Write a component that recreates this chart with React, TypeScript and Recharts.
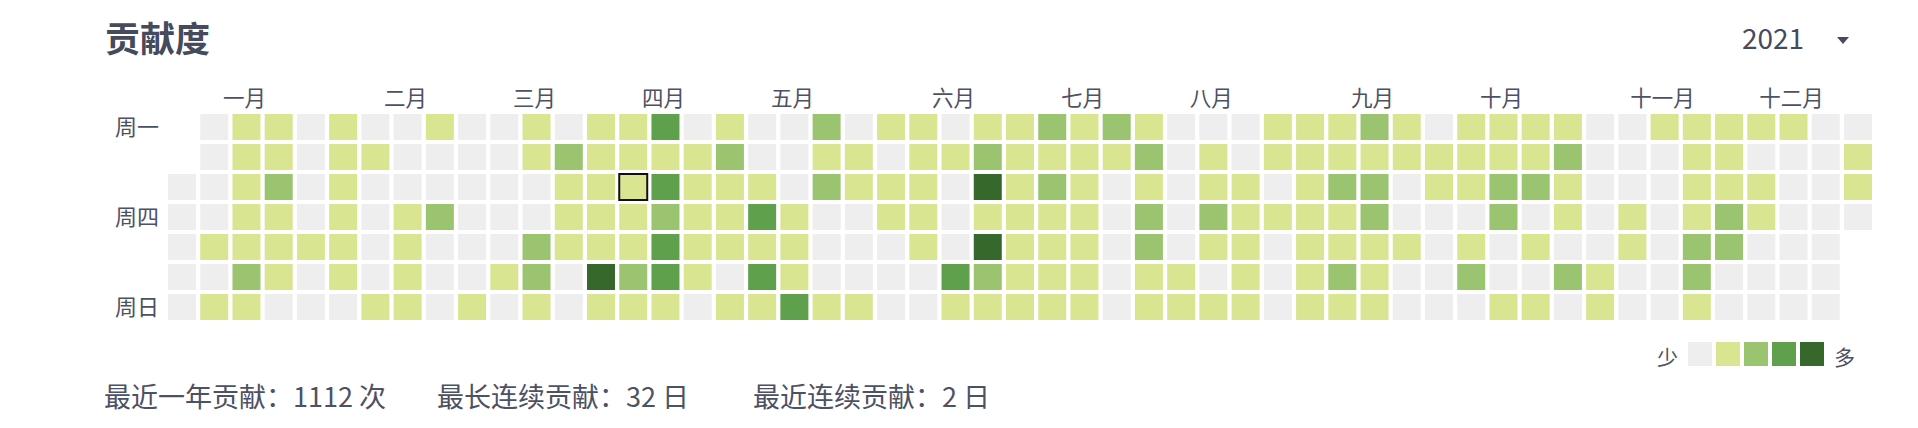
import React from 'react';
import { ScatterChart, Scatter, XAxis, YAxis } from 'recharts';

const TITLE = '贡献度';
const YEAR = '2021';
const MONTH_LABELS = ['一月', '二月', '三月', '四月', '五月', '六月', '七月', '八月', '九月', '十月', '十一月', '十二月'];
const MONTH_WEEKS = [2, 7, 11, 15, 19, 24, 28, 32, 37, 41, 46, 50];
const DAY_LABELS = ['周一', '周二', '周三', '周四', '周五', '周六', '周日'];
const DAY_TICKS = [0, 3, 6];
const LEVEL_COLORS = ['#eeeeee', '#dae591', '#9bc470', '#5ea04b', '#36682c'];
const FOOTER = ['最近一年贡献：1112 次', '最长连续贡献：32 日', '最近连续贡献：2 日'];
const SELECTED = { week: 14, day: 2 };

const N = null;
// level per week (0..52) for each weekday row
const MON = [N, 0, 1, 1, 0, 1, 0, 0, 1, 0, 0, 1, 0, 1, 1, 3, 0, 1, 0, 0, 2, 0, 1, 1, 0, 1, 1, 2, 1, 2, 1, 0, 0, 0, 1, 1, 1, 2, 1, 0, 1, 1, 1, 1, 0, 0, 1, 1, 1, 1, 1, 0, 0];
const TUE = [N, 0, 1, 1, 0, 1, 1, 0, 0, 0, 0, 1, 2, 1, 1, 1, 1, 2, 0, 0, 1, 1, 0, 1, 1, 2, 1, 1, 1, 1, 2, 0, 1, 0, 1, 1, 1, 1, 1, 1, 1, 1, 1, 2, 0, 0, 0, 1, 1, 0, 0, 0, 1];
const WED = [0, 0, 1, 2, 0, 1, 0, 0, 0, 0, 0, 0, 1, 1, 1, 3, 1, 1, 1, 0, 2, 1, 1, 1, 0, 4, 1, 2, 1, 0, 1, 0, 1, 1, 0, 1, 2, 2, 0, 1, 1, 2, 2, 1, 0, 0, 0, 1, 1, 1, 0, 0, 1];
const THU = [0, 0, 1, 1, 0, 1, 0, 1, 2, 0, 0, 0, 1, 1, 1, 2, 1, 1, 3, 1, 0, 0, 1, 1, 0, 1, 1, 1, 1, 0, 2, 0, 2, 1, 1, 1, 1, 2, 0, 0, 0, 2, 0, 1, 0, 1, 0, 1, 2, 1, 0, 0, 0];
const FRI = [0, 1, 1, 1, 1, 1, 0, 1, 0, 0, 0, 2, 1, 1, 1, 3, 1, 1, 1, 1, 0, 0, 0, 1, 0, 4, 1, 1, 1, 0, 2, 0, 1, 1, 0, 1, 1, 1, 1, 0, 1, 0, 1, 0, 0, 1, 0, 2, 2, 0, 0, 0, N];
const SAT = [0, 0, 2, 1, 0, 1, 0, 1, 0, 0, 1, 2, 0, 4, 2, 3, 1, 0, 3, 1, 0, 0, 0, 0, 3, 2, 1, 1, 1, 0, 1, 1, 0, 1, 0, 1, 2, 1, 0, 0, 2, 0, 0, 2, 1, 0, 0, 2, 0, 0, 0, 0, N];
const SUN = [0, 1, 1, 0, 0, 0, 1, 1, 0, 1, 0, 1, 0, 1, 1, 1, 0, 1, 1, 3, 1, 1, 0, 0, 1, 1, 1, 1, 1, 0, 1, 1, 1, 1, 0, 1, 1, 1, 0, 0, 0, 1, 1, 0, 1, 0, 0, 1, 0, 0, 0, 0, N];
const ROWS = [MON, TUE, WED, THU, FRI, SAT, SUN];

type CellDatum = { week: number; day: number; level: number };
const cells: CellDatum[] = [];
ROWS.forEach((row, day) => {
  row.forEach((level, week) => {
    if (level !== null) cells.push({ week, day, level });
  });
});

const FONT = "'Noto Sans CJK SC', 'Noto Sans', sans-serif";
const TEXT_COLOR = '#4c5163';

const CellShape = (props: any) => {
  const { cx, cy, payload } = props;
  const sel = payload.week === SELECTED.week && payload.day === SELECTED.day;
  return (
    <rect
      x={cx - 14}
      y={cy - 13}
      width={28}
      height={26}
      fill={LEVEL_COLORS[payload.level]}
      stroke={sel ? '#111111' : 'none'}
      strokeWidth={sel ? 2 : 0}
    />
  );
};

export default function App() {
  return (
    <div style={{ position: 'absolute', left: 0, top: 0, width: 1918, height: 428, background: '#fff', fontFamily: FONT }}>
      <div style={{ position: 'absolute', left: 105, top: 19, fontSize: 35, lineHeight: 1, fontWeight: 600, color: '#454a5c', whiteSpace: 'nowrap' }}>{TITLE}</div>
      <div style={{ position: 'absolute', left: 1742, top: 23, fontSize: 28, lineHeight: 1, color: '#454a5c' }}>{YEAR}</div>
      <svg style={{ position: 'absolute', left: 1837, top: 37 }} width={12} height={7}>
        <polygon points="0,0 12,0 6,7" fill="#454a5c" />
      </svg>
      <div style={{ position: 'absolute', left: 0, top: 0 }}>
        <ScatterChart width={1918} height={428} margin={{ top: 82, right: 43.9, bottom: 106, left: 105.9 }}>
          <XAxis
            type="number"
            dataKey="week"
            domain={[-0.5, 52.5]}
            orientation="top"
            height={30}
            ticks={MONTH_WEEKS}
            interval={0}
            tickFormatter={(v: number) => MONTH_LABELS[MONTH_WEEKS.indexOf(v)]}
            axisLine={false}
            tickLine={false}
            tickSize={0}
            tickMargin={6}
            tick={{ fill: TEXT_COLOR, fontSize: 21.5, fontFamily: FONT, dx: -2 }}
          />
          <YAxis
            type="number"
            dataKey="day"
            domain={[-0.5, 6.5]}
            reversed
            width={60}
            ticks={DAY_TICKS}
            interval={0}
            tickFormatter={(v: number) => DAY_LABELS[v]}
            axisLine={false}
            tickLine={false}
            tickSize={0}
            tickMargin={7}
            tick={{ fill: TEXT_COLOR, fontSize: 22, fontFamily: FONT }}
          />
          <Scatter data={cells} shape={CellShape} isAnimationActive={false} />
        </ScatterChart>
      </div>
      <div style={{ position: 'absolute', left: 1657, top: 346, fontSize: 21, lineHeight: 1, color: TEXT_COLOR }}>少</div>
      {LEVEL_COLORS.map((c, i) => (
        <div key={c} style={{ position: 'absolute', left: 1688 + i * 28, top: 342, width: 24, height: 24, background: c }} />
      ))}
      <div style={{ position: 'absolute', left: 1834, top: 346, fontSize: 21, lineHeight: 1, color: TEXT_COLOR }}>多</div>
      {FOOTER.map((t, i) => (
        <div key={t} style={{ position: 'absolute', left: [104, 437, 753][i], top: 382, fontSize: 27, lineHeight: 1, color: TEXT_COLOR, whiteSpace: 'nowrap' }}>{t}</div>
      ))}
    </div>
  );
}
